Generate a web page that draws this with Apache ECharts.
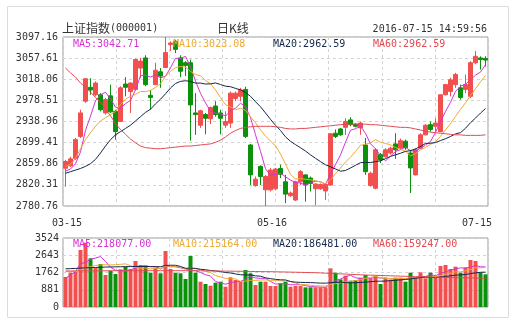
<!DOCTYPE html>
<html><head><meta charset="utf-8">
<script src="https://cdn.jsdelivr.net/npm/echarts@6/dist/echarts.min.js"></script>
<style>html,body{margin:0;padding:0;background:#fff}#c{width:519px;height:322px}</style>
</head><body><div id="c"></div>
<script>
const dates = ['03-15','03-16','03-17','03-18','03-21','03-22','03-23','03-24','03-25','03-28','03-29','03-30','03-31',
'04-01','04-05','04-06','04-07','04-08','04-11','04-12','04-13','04-14','04-15','04-18','04-19','04-20','04-21','04-22','04-25','04-26','04-27','04-28','04-29',
'05-03','05-04','05-05','05-06','05-09','05-10','05-11','05-12','05-13','05-16','05-17','05-18','05-19','05-20','05-23','05-24','05-25','05-26','05-27','05-30','05-31',
'06-01','06-02','06-03','06-06','06-07','06-08','06-13','06-14','06-15','06-16','06-17','06-20','06-21','06-22','06-23','06-24','06-27','06-28','06-29','06-30',
'07-01','07-04','07-05','07-06','07-07','07-08','07-11','07-12','07-13','07-14','07-15'];

// [open, close, low, high]
const ohlc = [
[2851.5,2864,2817,2867],[2856,2869,2854,2873],[2870,2905,2867,2908],[2911,2955,2908,2961],[2977,3019,2974,3020],
[3003,2998,2989,3020],[2989,3011,2986,3014],[2989,2961,2958,2992],[2955,2980,2952,2983],[2987,2957,2955,3008],
[2958,2920,2905,2961],[2939,3002,2938,3005],[3009,3003,2986,3022],[2995,3011,2955,3012],[2999,3055,2997,3057],
[3039,3052,3020,3058],[3058,3008,3005,3063],[2988,2984,2961,2998],[3008,3035,3007,3049],[3032,3024,3002,3039],
[3040,3068,3039,3097.16],[3083,3086,3071,3089],[3089,3074,3067,3092],[3058,3033,3022,3063],[3049,3044,3024,3052],
[3049,2970,2903,3055],[2955,2952,2914,2992],[2932,2959,2927,2961],[2952,2945,2915,2955],[2944,2965,2934,2967],
[2968,2952,2948,2977],[2955,2945,2915,2961],[2932,2939,2927,2958],[2936,2992,2927,2995],[2982,2992,2977,2995],
[2986,2998,2977,3002],[2999,2911,2908,3004],[2895,2839,2820,2897],[2819,2831,2817,2836],[2855,2836,2820,2857],
[2811,2836,2780.76,2839],[2811,2848,2808,2852],[2813,2850,2810,2852],[2851,2840,2833,2858],[2826,2803,2786,2839],
[2800,2805,2798,2808],[2792,2826,2790,2828],[2826,2845,2820,2848],[2839,2820,2789,2840],[2833,2823,2808,2836],
[2813,2822,2782,2823],[2813,2821,2811,2823],[2809,2821,2792,2823],[2820,2916,2819,2917],[2917,2911,2908,2924],
[2925,2914,2912,2927],[2928,2939,2914,2945],[2942,2933,2930,2947],[2934,2930,2928,2936],[2927,2936,2914,2939],
[2895,2845,2839,2908],[2819,2842,2817,2845],[2814,2886,2812,2889],[2877,2867,2861,2880],[2873,2886,2871,2889],
[2880,2889,2877,2892],[2897,2886,2869,2917],[2889,2903,2886,2907],[2902,2890,2886,2905],[2880,2852,2805,2886],
[2839,2886,2838,2889],[2889,2914,2888,2917],[2914,2932,2913,2934],[2933,2924,2920,2939],[2930,2936,2920,2945],
[2920,2989,2919,2990],[2989,3008,2988,3009],[2995,3017,2986,3021],[3008,3027,3002,3030],[3002,2984,2980,3008],
[2999,3008,2992,3027],[2986,3049,2983,3052],[3049,3061,3046,3071],[3058,3055,3036,3061],[3057,3054,3042,3061]];

const volumes = [1532,1752,1803,2911,3284,2487,2007,2196,1634,1854,
1685,1925,2058,1941,2349,2145,2094,1752,2007,1721,
2860,1941,1752,1721,1430,2605,1752,1292,1175,1088,
1241,1292,1037,1517,1379,1292,1890,1721,1124,1293,
1293,1072,1072,1208,1293,1038,1072,1072,1004,1004,
1004,1004,1004,1974,1753,1413,1600,1345,1379,1500,
1634,1464,1600,1174,1498,1379,1498,1498,1294,1753,
1498,1770,1464,1753,1500,2093,2145,1940,2059,1753,
2025,2400,2349,1770,1668];

// moving-average values before the window is full
const ma5Head = [2846,2850,2860,2882];
const ma10Head = [2855,2859,2870,2888,2905,2918,2930,2940,2946];
const ma20Head = [2842,2845,2848,2851,2855,2860,2868,2880,2893,2905,2914,2920,2926,2932,2940,2948,2956,2962,2972];
const ma60 = [3039,3030,3022,3011,3003,2994,2984,2975,2962,2950,2935,2924,2915,2906,2899,2893,2890,2889,2888,2888,
2889,2890,2891,2892,2893,2893,2894,2895,2896,2897,2900,2904,2910,2917,2922,2926,2928,2929,2930,2930,
2930,2930,2929,2928,2926,2925,2925,2926,2926,2927,2928,2929,2930,2931,2932,2933,2934,2934,2934,2934,
2934,2933,2933,2932,2931,2930,2929,2928,2928,2927,2925,2923,2921,2919,2918,2917,2916,2915,2914,2914,
2913,2913,2913,2913,2914];
const volMa5Head = [1466,1634,1803,2232];
const volMa10Head = [1800,1810,1830,1900,1990,2070,2120,2150,2160];
const volMa20Head = [1950,1960,1970,1985,2000,2010,2020,2030,2040,2045,2050,2055,2060,2065,2070,2070,2070,2065,2060];
const volMa60 = [1840,1841,1842,1843,1844,1845,1846,1847,1848,1849,
1850,1850,1851,1851,1852,1852,1853,1853,1854,1854,
1854,1854,1854,1854,1854,1853,1850,1847,1844,1841,
1838,1835,1832,1829,1826,1823,1820,1816,1812,1808,
1805,1803,1798,1793,1787,1781,1775,1769,1763,1757,
1752,1740,1728,1716,1704,1692,1680,1668,1656,1645,
1635,1626,1618,1610,1601,1593,1585,1576,1568,1559,
1550,1544,1538,1532,1526,1520,1514,1508,1502,1496,
1490,1484,1478,1472,1466];

const priceTicks = ['2780.76','2820.31','2859.86','2899.41','2938.96','2978.51','3018.06','3057.61','3097.16'];
const priceMin = 2780.76, priceMax = 3097.16;
const volTicks = [0,881,1762,2643,3524];
const xLabelDates = ['03-15','05-16','07-15'];
const titleText = '上证指数';
const codeText = '(000001)';
const periodText = '日K线';
const timeText = '2016-07-15 14:59:56';
const maLabels = ['MA5:3042.71','MA10:3023.08','MA20:2962.59','MA60:2962.59'];
const volMaLabels = ['MA5:218077.00','MA10:215164.00','MA20:186481.00','MA60:159247.00'];

const UP = '#f24f4f', DOWN = '#0b910b';
const maColors = ['#d633d6','#eeaa33','#14284a','#e24a52'];
const MONO = 'DejaVu Sans Mono';

function movingAvg(vals, n, head) {
  return vals.map((v, i) => {
    if (i < n - 1) return head[i];
    let s = 0; for (let k = i - n + 1; k <= i; k++) s += vals[k];
    return +(s / n).toFixed(2);
  });
}
const closes = ohlc.map(d => d[1]);
const ma5 = movingAvg(closes, 5, ma5Head);
const ma10 = movingAvg(closes, 10, ma10Head);
const ma20 = movingAvg(closes, 20, ma20Head);
const vma5 = movingAvg(volumes, 5, volMa5Head);
const vma10 = movingAvg(volumes, 10, volMa10Head);
const vma20 = movingAvg(volumes, 20, volMa20Head);

const G0 = {left: 63, top: 37, width: 425, height: 169};
const G1 = {left: 63, top: 238, width: 425, height: 69};
const dash = {color: '#d4d4d4', type: [3, 3], width: 1};

const chart = echarts.init(document.getElementById('c'), null, {renderer: 'canvas'});
const lineSeries = (name, data, color, xi, yi) => ({
  name, type: 'line', data, xAxisIndex: xi, yAxisIndex: yi, showSymbol: false, symbol: 'none',
  lineStyle: {color, width: 1}, itemStyle: {color}, silent: true, animation: false, z: 3
});
const labelPad = {'03-15': [0,0,0,3], '05-16': [0,7,0,0], '07-15': [0,17,0,0]};

const graphics = [
  {type: 'rect', shape: {x: 7.5, y: 6.5, width: 501, height: 311}, style: {fill: 'none', stroke: '#dcdcdc', lineWidth: 1}, silent: true, z: -10},
  {type: 'text', x: 62, y: 28, style: {text: '{a|' + titleText + '}{b|' + codeText + '}', rich: {
    a: {font: '12px "Noto Sans CJK SC"', fill: '#333'}, b: {font: '10px ' + MONO, fill: '#333'}}, verticalAlign: 'middle'}},
  {type: 'text', x: 217, y: 28, style: {text: periodText, font: '12px "Noto Sans CJK SC"', fill: '#333', verticalAlign: 'middle'}},
  {type: 'text', x: 487, y: 29, style: {text: timeText, font: '10px ' + MONO, fill: '#333', align: 'right', verticalAlign: 'middle'}}
];
maLabels.forEach((t, i) => graphics.push({type: 'text', x: 73 + 100 * i, y: 44.5, z: 10,
  style: {text: t, font: '10px ' + MONO, fill: maColors[i], verticalAlign: 'middle'}}));
volMaLabels.forEach((t, i) => graphics.push({type: 'text', x: 73 + 100 * i, y: 244.5, z: 10,
  style: {text: t, font: '10px ' + MONO, fill: maColors[i], verticalAlign: 'middle'}}));

chart.setOption({
  animation: false,
  backgroundColor: '#fff',
  textStyle: {fontFamily: MONO},
  grid: [
    Object.assign({show: true, borderColor: '#9a9a9a', borderWidth: 1, backgroundColor: '#fff'}, G0),
    Object.assign({show: true, borderColor: '#9a9a9a', borderWidth: 1, backgroundColor: '#fff'}, G1)
  ],
  xAxis: [
    {type: 'category', gridIndex: 0, data: dates, boundaryGap: true,
     axisLine: {show: false}, axisTick: {show: false}, splitLine: {show: false},
     axisLabel: {interval: (i, v) => xLabelDates.includes(v), margin: 12, color: '#333', fontSize: 10, fontFamily: MONO,
       formatter: v => '{p' + v.replace('-', '') + '|' + v + '}',
       rich: Object.fromEntries(xLabelDates.map(d => ['p' + d.replace('-', ''), {padding: labelPad[d], fontSize: 10, fontFamily: MONO, color: '#333'}]))}},
    {type: 'value', gridIndex: 0, min: 0, max: 8, interval: 1, show: true,
     axisLine: {show: false}, axisTick: {show: false}, axisLabel: {show: false}, splitLine: {show: true, lineStyle: dash}},
    {type: 'category', gridIndex: 1, data: dates, boundaryGap: true,
     axisLine: {show: false}, axisTick: {show: false}, axisLabel: {show: false}, splitLine: {show: false}},
    {type: 'value', gridIndex: 1, min: 0, max: 8, interval: 1,
     axisLine: {show: false}, axisTick: {show: false}, axisLabel: {show: false}, splitLine: {show: true, lineStyle: dash}}
  ],
  yAxis: [
    {type: 'value', gridIndex: 0, min: priceMin, max: priceMax, show: false, splitLine: {show: false}},
    {type: 'value', gridIndex: 0, min: 0, max: priceTicks.length - 1, interval: 1, position: 'left',
     axisLine: {show: false}, axisTick: {show: false},
     axisLabel: {margin: 5, color: '#333', fontSize: 10, fontFamily: MONO, formatter: v => priceTicks[v]},
     splitLine: {show: true, lineStyle: dash}},
    {type: 'value', gridIndex: 1, min: volTicks[0], max: volTicks[volTicks.length - 1], interval: volTicks[1],
     axisLine: {show: false}, axisTick: {show: false},
     axisLabel: {margin: 4, color: '#333', fontSize: 10, fontFamily: MONO, padding: [0, 0, 6, 0], formatter: v => String(v)},
     splitLine: {show: true, lineStyle: dash}}
  ],
  series: [
    {type: 'candlestick', xAxisIndex: 0, yAxisIndex: 0, data: ohlc, barWidth: 4, z: 2,
     itemStyle: {color: UP, color0: DOWN, borderColor: UP, borderColor0: DOWN, borderWidth: 1}},
    lineSeries('MA5', ma5, maColors[0], 0, 0),
    lineSeries('MA10', ma10, maColors[1], 0, 0),
    lineSeries('MA20', ma20, maColors[2], 0, 0),
    lineSeries('MA60', ma60, maColors[3], 0, 0),
    {type: 'bar', xAxisIndex: 2, yAxisIndex: 2, barWidth: 4, z: 2,
     data: volumes.map((v, i) => ({value: v, itemStyle: {color: ohlc[i][1] >= ohlc[i][0] ? UP : DOWN}}))},
    lineSeries('VMA5', vma5, maColors[0], 2, 2),
    lineSeries('VMA10', vma10, maColors[1], 2, 2),
    lineSeries('VMA20', vma20, maColors[2], 2, 2),
    lineSeries('VMA60', volMa60, maColors[3], 2, 2)
  ],
  graphic: graphics
});
</script></body></html>
